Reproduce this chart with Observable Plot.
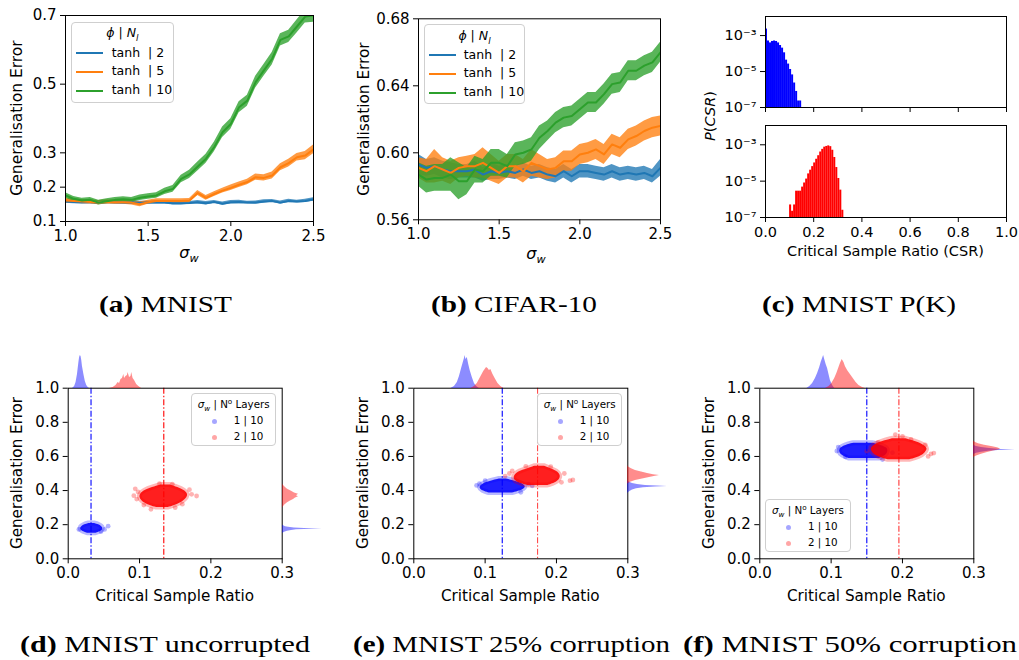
<!DOCTYPE html>
<html><head><meta charset="utf-8">
<script src="https://cdn.jsdelivr.net/npm/d3@7"></script>
<script src="https://cdn.jsdelivr.net/npm/@observablehq/plot@0.6"></script>
<style>
body{margin:0;background:#fff;}
#root{position:relative;width:1019px;height:660px;overflow:hidden;font-family:"DejaVu Sans",sans-serif;color:#000;background:#fff;}
#root svg{position:absolute;}
.lg{position:absolute;box-sizing:border-box;border:1px solid #cfcfcf;border-radius:4px;background:rgba(255,255,255,0.85);}
.lg div{position:absolute;white-space:pre;line-height:1;}
</style>
</head><body><div id="root"></div><script>
// ---------- (a) MNIST / (b) CIFAR-10 ----------
const sigmaW = [1.00,1.05,1.10,1.15,1.20,1.25,1.30,1.35,1.40,1.45,1.50,1.55,1.60,1.65,1.70,1.75,1.80,1.85,1.90,1.95,2.00,2.05,2.10,2.15,2.20,2.25,2.30,2.35,2.40,2.45,2.50];
const seriesLabels = ["tanh  | 2","tanh  | 5","tanh  | 10"];
const seriesColors = ["#1f77b4","#ff7f0e","#2ca02c"];

const mnistN2   = [0.158,0.157,0.156,0.156,0.155,0.157,0.156,0.155,0.156,0.154,0.155,0.156,0.155,0.153,0.153,0.154,0.156,0.153,0.157,0.152,0.156,0.157,0.155,0.155,0.158,0.160,0.155,0.160,0.158,0.160,0.164];
const mnistN2Sd = [0.005,0.005,0.005,0.004,0.005,0.004,0.005,0.004,0.005,0.005,0.004,0.005,0.004,0.005,0.005,0.004,0.005,0.005,0.004,0.005,0.005,0.005,0.004,0.005,0.005,0.004,0.005,0.005,0.004,0.005,0.005];
const mnistN5   = [0.161,0.160,0.158,0.157,0.155,0.157,0.156,0.156,0.155,0.150,0.156,0.160,0.160,0.160,0.160,0.161,0.183,0.169,0.180,0.190,0.198,0.207,0.215,0.229,0.227,0.234,0.258,0.270,0.287,0.292,0.310];
const mnistN5Sd = [0.007,0.006,0.006,0.006,0.006,0.006,0.006,0.006,0.007,0.007,0.006,0.006,0.006,0.006,0.006,0.006,0.007,0.007,0.007,0.007,0.008,0.008,0.008,0.009,0.009,0.010,0.010,0.011,0.011,0.012,0.013];
const mnistN10   = [0.176,0.166,0.161,0.163,0.155,0.159,0.163,0.165,0.163,0.169,0.173,0.176,0.188,0.195,0.224,0.237,0.260,0.283,0.317,0.360,0.384,0.433,0.452,0.506,0.540,0.574,0.629,0.639,0.668,0.697,0.700];
const mnistN10Sd = [0.008,0.007,0.007,0.007,0.007,0.007,0.007,0.007,0.007,0.008,0.008,0.008,0.009,0.010,0.011,0.012,0.013,0.013,0.014,0.015,0.015,0.016,0.016,0.017,0.017,0.018,0.018,0.018,0.019,0.019,0.020];

const cifarN2   = [0.593,0.591,0.592,0.590,0.589,0.589,0.589,0.590,0.587,0.589,0.588,0.589,0.588,0.590,0.588,0.589,0.587,0.586,0.589,0.586,0.589,0.589,0.588,0.587,0.589,0.587,0.588,0.587,0.588,0.586,0.591];
const cifarN2Sd = [0.006,0.005,0.005,0.005,0.005,0.004,0.004,0.005,0.004,0.005,0.004,0.004,0.004,0.004,0.004,0.004,0.004,0.004,0.004,0.004,0.004,0.004,0.004,0.004,0.004,0.004,0.004,0.004,0.004,0.004,0.005];
const cifarN5   = [0.591,0.589,0.592,0.590,0.588,0.591,0.592,0.592,0.594,0.591,0.588,0.592,0.592,0.589,0.594,0.592,0.590,0.591,0.595,0.595,0.599,0.600,0.602,0.599,0.605,0.603,0.608,0.610,0.613,0.615,0.616];
const cifarN5Sd = [0.006,0.007,0.010,0.007,0.007,0.006,0.006,0.007,0.009,0.008,0.007,0.007,0.007,0.007,0.008,0.007,0.006,0.006,0.006,0.006,0.006,0.006,0.006,0.006,0.006,0.006,0.006,0.006,0.006,0.006,0.006];
const cifarN10   = [0.587,0.584,0.585,0.585,0.587,0.583,0.583,0.590,0.589,0.594,0.594,0.592,0.599,0.600,0.602,0.609,0.613,0.618,0.621,0.622,0.626,0.630,0.630,0.635,0.641,0.642,0.649,0.649,0.652,0.654,0.660];
const cifarN10Sd = [0.007,0.008,0.008,0.008,0.010,0.011,0.008,0.008,0.007,0.008,0.008,0.007,0.007,0.007,0.007,0.007,0.006,0.006,0.006,0.006,0.006,0.006,0.006,0.006,0.006,0.006,0.006,0.006,0.006,0.006,0.006];

const mnistTicksY = [0.1,0.2,0.3,0.5,0.7];
const cifarTicksY = [0.56,0.60,0.64,0.68];
const sigmaTicks = [1.0,1.5,2.0,2.5];

// ---------- (c) MNIST P(K) ----------
const csrBinWidth = 0.00833;
const csrBlueBins = [0.0000,0.0083,0.0167,0.0250,0.0333,0.0417,0.0500,0.0583,0.0667,0.0750,0.0833,0.0917,0.1000,0.1083,0.1167,0.1250,0.1333,0.1417];
const csrBlueP    = [2.3e-3,5.0e-4,3.9e-4,4.7e-4,5.0e-4,4.7e-4,3.9e-4,2.8e-4,2.0e-4,1.1e-4,4.3e-5,2.6e-5,1.3e-5,6.5e-6,2.3e-6,7.8e-7,2.3e-7,2.3e-7];
const csrRedBins  = [0.1000,0.1083,0.1167,0.1250,0.1333,0.1417,0.1500,0.1583,0.1667,0.1750,0.1833,0.1917,0.2000,0.2083,0.2167,0.2250,0.2333,0.2417,0.2500,0.2583,0.2667,0.2750,0.2833,0.2917,0.3000,0.3083,0.3167];
const csrRedP     = [4.9e-7,2.2e-7,4.9e-7,2.8e-6,2.8e-6,2.8e-6,4.7e-6,7.9e-6,1.3e-5,2.5e-5,4.0e-5,6.3e-5,1.0e-4,1.6e-4,2.5e-4,4.0e-4,5.6e-4,7.4e-4,8.1e-4,8.7e-4,7.9e-4,5.0e-4,2.0e-4,5.6e-5,1.4e-5,3.2e-6,2.5e-7];
const csrTicksX = [0,0.2,0.4,0.6,0.8,1.0];
const csrTicksY = [1e-7,1e-5,1e-3];
const csrTickText = ["10\u207B\u2077","10\u207B\u2075","10\u207B\u00B3"];

// ---------- (d)(e)(f) scatter panels ----------
// cloud cores: [generalisation error, CSR left edge, CSR right edge]; outliers: [CSR, error]
const dBlueCore = [[0.150,0.027,0.039],[0.158,0.021,0.045],[0.168,0.018,0.048],[0.178,0.017,0.049],[0.190,0.019,0.047],[0.200,0.023,0.043],[0.207,0.029,0.037]];
const dBlueOut  = [[0.056,0.191],[0.051,0.172],[0.015,0.172],[0.046,0.160]];
const dRedCore  = [[0.300,0.124,0.140],[0.318,0.110,0.154],[0.338,0.103,0.162],[0.360,0.100,0.167],[0.380,0.101,0.168],[0.400,0.107,0.163],[0.418,0.118,0.154],[0.432,0.130,0.143]];
const dRedOut   = [[0.092,0.370],[0.096,0.350],[0.098,0.392],[0.180,0.368],[0.173,0.378],[0.106,0.315],[0.116,0.290],[0.128,0.440],[0.146,0.437],[0.170,0.405],[0.094,0.410],[0.160,0.320],[0.150,0.300]];
const dMeans = [0.032,0.134];

const eBlueCore = [[0.385,0.106,0.138],[0.398,0.096,0.150],[0.415,0.092,0.157],[0.432,0.094,0.156],[0.448,0.102,0.148],[0.460,0.112,0.138],[0.468,0.120,0.130]];
const eBlueOut  = [[0.088,0.430],[0.161,0.438],[0.166,0.428],[0.100,0.458],[0.150,0.390],[0.092,0.440]];
const eRedCore  = [[0.430,0.160,0.188],[0.445,0.146,0.199],[0.465,0.140,0.205],[0.490,0.141,0.206],[0.512,0.148,0.201],[0.528,0.160,0.192],[0.543,0.170,0.183]];
const eRedOut   = [[0.219,0.458],[0.223,0.462],[0.134,0.500],[0.128,0.485],[0.211,0.500],[0.157,0.542],[0.192,0.540],[0.207,0.448],[0.138,0.515]];
const eMeans = [0.124,0.1735];

const fBlueCore = [[0.588,0.125,0.168],[0.605,0.115,0.177],[0.628,0.111,0.180],[0.650,0.113,0.179],[0.665,0.120,0.170],[0.678,0.132,0.158]];
const fBlueOut  = [[0.108,0.632],[0.186,0.622],[0.120,0.598],[0.172,0.582],[0.110,0.655]];
const fRedCore  = [[0.580,0.180,0.210],[0.598,0.165,0.225],[0.620,0.158,0.232],[0.645,0.155,0.236],[0.668,0.160,0.230],[0.688,0.172,0.218],[0.703,0.186,0.205]];
const fRedOut   = [[0.240,0.615],[0.244,0.620],[0.150,0.630],[0.190,0.728],[0.200,0.718],[0.232,0.668],[0.166,0.682],[0.236,0.600],[0.212,0.700]];
const fMeans = [0.150,0.195];

// marginal histograms: [position, height]
const dTopBlue = [[0.006,0],[0.009,2],[0.011,6],[0.013,14],[0.015,26],[0.016,31],[0.017,33],[0.018,32],[0.019,28],[0.020,22],[0.022,14],[0.024,7],[0.026,3],[0.028,1],[0.030,0]];
const dTopRed  = [[0.058,0],[0.063,1],[0.067,3],[0.070,6],[0.072,5],[0.074,9],[0.076,10],[0.078,14],[0.079,10],[0.081,12],[0.083,13],[0.084,16],[0.086,11],[0.088,12],[0.089,16],[0.091,10],[0.093,8],[0.096,4],[0.099,2],[0.103,0]];
const dRightBlue = [[0.150,0],[0.158,2],[0.163,5],[0.168,9],[0.172,14],[0.175,30],[0.177,40],[0.179,22],[0.182,12],[0.186,6],[0.190,3],[0.196,1],[0.200,0]];
const dRightRed  = [[0.300,0],[0.315,2],[0.330,5],[0.340,8],[0.350,11],[0.358,13],[0.365,16],[0.372,14],[0.380,16],[0.388,12],[0.398,9],[0.410,5],[0.420,3],[0.432,1],[0.440,0]];
const eTopBlue = [[0.052,0],[0.057,2],[0.061,6],[0.064,12],[0.067,20],[0.069,25],[0.071,30],[0.072,33],[0.073,29],[0.075,31],[0.077,24],[0.079,18],[0.082,11],[0.085,5],[0.088,2],[0.092,0]];
const eTopRed  = [[0.080,0],[0.085,2],[0.089,5],[0.092,9],[0.095,13],[0.098,17],[0.100,19],[0.102,21],[0.104,20],[0.106,18],[0.108,19],[0.111,14],[0.114,10],[0.118,5],[0.122,2],[0.126,0]];
const eRightBlue = [[0.385,0],[0.395,2],[0.405,5],[0.412,9],[0.418,16],[0.422,28],[0.425,40],[0.428,30],[0.432,18],[0.437,10],[0.443,5],[0.450,2],[0.456,0]];
const eRightRed  = [[0.440,0],[0.450,3],[0.460,8],[0.470,15],[0.478,22],[0.485,28],[0.490,32],[0.495,26],[0.502,20],[0.510,14],[0.520,8],[0.530,4],[0.540,1],[0.548,0]];
const fTopBlue = [[0.066,0],[0.070,2],[0.074,5],[0.078,10],[0.081,15],[0.084,21],[0.086,26],[0.088,30],[0.0895,33],[0.091,29],[0.093,24],[0.095,20],[0.097,14],[0.099,8],[0.102,3],[0.105,0]];
const fTopRed  = [[0.092,0],[0.097,2],[0.101,5],[0.105,10],[0.108,15],[0.111,21],[0.113,25],[0.1155,29],[0.118,26],[0.120,22],[0.123,18],[0.127,14],[0.131,10],[0.135,6],[0.139,3],[0.144,1],[0.148,0]];
const fRightBlue = [[0.612,0],[0.620,3],[0.627,8],[0.632,15],[0.637,25],[0.640,42],[0.643,28],[0.648,16],[0.654,8],[0.660,3],[0.668,0]];
const fRightRed  = [[0.595,0],[0.605,3],[0.615,8],[0.625,14],[0.633,20],[0.640,25],[0.646,27],[0.652,24],[0.660,18],[0.668,11],[0.676,5],[0.684,2],[0.692,0]];

const csrTicksScatter = [0,0.1,0.2,0.3];
const errTicksScatter = [0,0.2,0.4,0.6,0.8,1.0];
const legendEntries = ["1 | 10","2 | 10"];

const captionsTop = ["MNIST","CIFAR-10","MNIST P(K)"];
const captionsBottom = ["MNIST uncorrupted","MNIST 25% corruption","MNIST 50% corruption"];

// ================= rendering =================
const root = document.getElementById("root");
const fmt1 = d3.format(".1f"), fmt2 = d3.format(".2f");
const baseStyle = {fontSize:"15px", fontFamily:"'DejaVu Sans', sans-serif", color:"#000", background:"transparent", overflow:"visible"};

function put(svg, left, top){ svg.style.left = left+"px"; svg.style.top = top+"px"; root.appendChild(svg); return svg; }
function addDiv(html, css, cls){ const d = document.createElement("div"); if (cls) d.className = cls; d.innerHTML = html; d.style.cssText = "position:absolute;"+css; root.appendChild(d); return d; }
function yLabel(html, x, y, fs){ addDiv(html, `left:${x}px;top:${y}px;transform:translate(-50%,-50%) rotate(-90deg);font-size:${fs}px;white-space:nowrap;line-height:1;`); }
function xLabel(html, x, y, fs){ addDiv(html, `left:${x}px;top:${y}px;transform:translate(-50%,-50%);font-size:${fs}px;white-space:nowrap;line-height:1;`); }

function bandRows(vals, sds, key){ return sigmaW.map((s,i)=>({s, v:vals[i], lo:vals[i]-sds[i], hi:vals[i]+sds[i], k:key})); }

function linePanel(rows, yDomain, yTicks, yFmt, o){
  return Plot.plot({
    width:o.w, height:o.h, marginLeft:o.ml, marginRight:o.mr, marginTop:o.mt, marginBottom:o.mb,
    style:baseStyle,
    x:{domain:[1,2.5], ticks:sigmaTicks, tickFormat:fmt1, label:null, tickSize:5},
    y:{domain:yDomain, ticks:yTicks, tickFormat:yFmt, label:null, tickSize:5},
    color:{domain:seriesLabels, range:seriesColors},
    marks:[
      Plot.areaY(rows, {x:"s", y1:"lo", y2:"hi", z:"k", fill:"k", fillOpacity:0.78, clip:true}),
      Plot.lineY(rows, {x:"s", y:"v", z:"k", stroke:"k", strokeWidth:2, clip:true}),
      Plot.frame({stroke:"#000"})
    ]
  });
}

// (a)
const aRows = [].concat(bandRows(mnistN2,mnistN2Sd,seriesLabels[0]), bandRows(mnistN5,mnistN5Sd,seriesLabels[1]), bandRows(mnistN10,mnistN10Sd,seriesLabels[2]));
put(linePanel(aRows, [0.1,0.7], mnistTicksY, fmt1, {w:330,h:255,ml:65,mr:17,mt:15,mb:34}), 0, 0);
yLabel("Generalisation Error", 17.5, 118, 15.5);
xLabel("<i>σ<sub style='font-size:70%'>w</sub></i>", 189, 255, 16);

// (b)
const bRows = [].concat(bandRows(cifarN2,cifarN2Sd,seriesLabels[0]), bandRows(cifarN5,cifarN5Sd,seriesLabels[1]), bandRows(cifarN10,cifarN10Sd,seriesLabels[2]));
put(linePanel(bRows, [0.56,0.68], cifarTicksY, fmt2, {w:330,h:253.3,ml:78,mr:10,mt:18.3,mb:34}), 340, 0);
yLabel("Generalisation Error", 365, 119, 15.3);
xLabel("<i>σ<sub style='font-size:70%'>w</sub></i>", 536, 256, 16);

function lineLegend(left, top, w, h, rowsY, titleY, lineX, textX){
  const box = addDiv("", `left:${left}px;top:${top}px;width:${w}px;height:${h}px;`, "lg");
  box.innerHTML = `<div style="left:0;width:100%;text-align:center;top:${titleY-7}px;font-size:12.5px;"><i>ϕ</i> | <i>N<sub style="font-size:70%">l</sub></i></div>` +
    seriesLabels.map((lab,i)=>`<div style="left:${lineX}px;top:${rowsY[i]-1}px;width:27px;height:2px;background:${seriesColors[i]};"></div><div style="left:${textX}px;top:${rowsY[i]-6.5}px;font-size:12.5px;">${lab}</div>`).join("");
}
lineLegend(70.7, 21.7, 103.3, 81.7, [30.6,49.3,68.3], 11.5, 4.3, 40);
lineLegend(424, 24, 101, 80, [30.3,48.7,67.7], 12, 4.3, 38.7);

// (c)
function histPanel(bins, ps, color, showX, o){
  const rows = bins.map((b,i)=>({x1:b, x2:b+csrBinWidth, p:ps[i]}));
  return Plot.plot({
    width:339, height:o.h, marginLeft:85, marginRight:13, marginTop:o.mt, marginBottom:o.mb,
    style:{...baseStyle, fontSize:"14.5px"},
    x:{domain:[0,1], ticks:csrTicksX, tickFormat: showX ? fmt1 : ()=>"", label:null, tickSize:5},
    y:{type:"log", domain:[1e-7, 0.0115], ticks:csrTicksY, tickFormat:(d)=>csrTickText[csrTicksY.indexOf(d)] ?? "", label:null, tickSize:5},
    marks:[
      Plot.rectY(rows, {x1:"x1", x2:"x2", y1:1e-7, y2:"p", fill:color, clip:true}),
      Plot.frame({stroke:"#000"})
    ]
  });
}
put(histPanel(csrBlueBins, csrBlueP, "#0000ff", false, {h:115, mt:16, mb:8}), 680, 0);
put(histPanel(csrRedBins, csrRedP, "#ff0000", true, {h:147, mt:15, mb:40}), 680, 110);
yLabel("<i>P</i>(<i>CSR</i>)", 710, 116, 14.5);
xLabel("Critical Sample Ratio (CSR)", 885.5, 251, 14.5);

// (d)(e)(f)
function scatterPanel(o){
  const coreMark = (data, color) => Plot.areaX(data, {y:d=>d[0], x1:d=>d[1], x2:d=>d[2], fill:color, fillOpacity:0.88, stroke:color, strokeOpacity:0.28, strokeWidth:5, curve:"basis"});
  const outMark = (data, color) => Plot.dot(data, {x:d=>d[0], y:d=>d[1], r:2.4, fill:color, fillOpacity:0.3, stroke:"none"});
  const main = Plot.plot({
    width:300, height:213.3, marginLeft:o.ml, marginRight:300-o.ml-214, marginTop:7.7, marginBottom:35,
    style:baseStyle,
    x:{domain:[0,0.3], ticks:csrTicksScatter, tickFormat:fmt1, label:null, tickSize:5},
    y:{domain:[0,1], ticks:errTicksScatter, tickFormat:fmt1, label:null, tickSize:5},
    marks:[
      outMark(o.blueOut, "#0000ff"), coreMark(o.blueCore, "#0000ff"),
      outMark(o.redOut, "#ff0000"), coreMark(o.redCore, "#ff0000"),
      Plot.ruleX([o.means[0]], {x:d=>d, stroke:"#0000ff", strokeWidth:1.1, strokeDasharray:"6,2,1.5,2"}),
      Plot.ruleX([o.means[1]], {x:d=>d, stroke:"#ff0000", strokeWidth:1.1, strokeDasharray:"6,2,1.5,2", strokeOpacity:o.redRuleOpacity}),
      Plot.frame({stroke:"#000"})
    ]
  });
  put(main, o.left, 380);
  const top = Plot.plot({
    width:300, height:36, marginLeft:o.ml, marginRight:300-o.ml-214, marginTop:0, marginBottom:0,
    style:baseStyle,
    x:{domain:[0,0.3], axis:null}, y:{domain:[0,36], axis:null},
    marks:[
      Plot.areaY(o.topBlue, {x:d=>d[0], y:d=>d[1], fill:"#0000ff", fillOpacity:0.45}),
      Plot.areaY(o.topRed, {x:d=>d[0], y:d=>d[1], fill:"#ff0000", fillOpacity:0.45})
    ]
  });
  put(top, o.left, 387.7-36);
  const right = Plot.plot({
    width:46, height:170.6, marginLeft:0, marginRight:0, marginTop:0, marginBottom:0,
    style:baseStyle,
    x:{domain:[0,46], axis:null}, y:{domain:[0,1], axis:null},
    marks:[
      Plot.areaX(o.rightBlue, {y:d=>d[0], x:d=>d[1], fill:"#0000ff", fillOpacity:0.45}),
      Plot.areaX(o.rightRed, {y:d=>d[0], x:d=>d[1], fill:"#ff0000", fillOpacity:0.45})
    ]
  });
  put(right, o.left+o.ml+214, 387.7);
  yLabel("Generalisation Error", o.ylx, 473, 15.2);
  xLabel("Critical Sample Ratio", o.left+o.ml+107, 596.5, 15.2);
  const L = o.legend;
  const box = addDiv("", `left:${L[0]}px;top:${L[1]}px;width:85.5px;height:53px;`, "lg");
  box.innerHTML = `<div style="left:6px;top:3.5px;font-size:10.3px;"><i>σ<sub style="font-size:70%">w</sub></i> | N<sup style="font-size:70%">o</sup> Layers</div>` +
    legendEntries.map((lab,i)=>{
      const c = i===0 ? "rgba(0,0,255,0.35)" : "rgba(255,0,0,0.35)";
      const y = i===0 ? 27 : 43;
      return `<div style="left:${20}px;top:${y-2.5}px;width:5px;height:5px;border-radius:50%;background:${c};"></div><div style="left:42px;top:${y-6}px;font-size:10.3px;">${lab}</div>`;
    }).join("");
}
scatterPanel({left:0, ml:67.7, blueCore:dBlueCore, blueOut:dBlueOut, redCore:dRedCore, redOut:dRedOut, means:dMeans, redRuleOpacity:1,
  topBlue:dTopBlue, topRed:dTopRed, rightBlue:dRightBlue, rightRed:dRightRed, ylx:18.3, legend:[190.7,393.3]});
scatterPanel({left:340, ml:73.3, blueCore:eBlueCore, blueOut:eBlueOut, redCore:eRedCore, redOut:eRedOut, means:eMeans, redRuleOpacity:0.7,
  topBlue:eTopBlue, topRed:eTopRed, rightBlue:eRightBlue, rightRed:eRightRed, ylx:364, legend:[536.7,393.3]});
scatterPanel({left:680, ml:79.3, blueCore:fBlueCore, blueOut:fBlueOut, redCore:fRedCore, redOut:fRedOut, means:fMeans, redRuleOpacity:0.8,
  topBlue:fTopBlue, topRed:fTopRed, rightBlue:fRightBlue, rightRed:fRightRed, ylx:710, legend:[765,499.3]});

// captions
const ns = "http://www.w3.org/2000/svg";
const cap = document.createElementNS(ns, "svg");
cap.setAttribute("width", 1019); cap.setAttribute("height", 660);
cap.style.left = "0px"; cap.style.top = "0px"; cap.style.pointerEvents = "none";
root.appendChild(cap);
function caption(letter, text, x1, x2, baseline){
  const t = document.createElementNS(ns, "text");
  t.setAttribute("x", x1); t.setAttribute("y", baseline);
  t.setAttribute("textLength", x2-x1); t.setAttribute("lengthAdjust", "spacingAndGlyphs");
  t.setAttribute("font-family", "'Liberation Serif', serif"); t.setAttribute("font-size", "23");
  t.setAttribute("fill", "#000");
  const b = document.createElementNS(ns, "tspan"); b.setAttribute("font-weight", "bold"); b.textContent = "(" + letter + ")";
  const r = document.createElementNS(ns, "tspan"); r.textContent = " " + text;
  t.appendChild(b); t.appendChild(r); cap.appendChild(t);
}
caption("a", captionsTop[0], 99, 232, 312);
caption("b", captionsTop[1], 431, 597, 312);
caption("c", captionsTop[2], 762, 956, 312);
caption("d", captionsBottom[0], 20, 310, 652);
caption("e", captionsBottom[1], 353, 670, 652);
caption("f", captionsBottom[2], 683, 1017, 652);
</script></body></html>
